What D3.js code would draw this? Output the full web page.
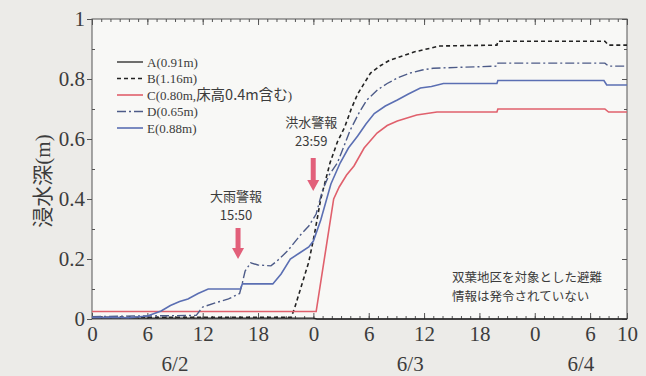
<!DOCTYPE html>
<html>
<head>
<meta charset="utf-8">
<script src="https://cdn.jsdelivr.net/npm/d3@7"></script>
<style>
  html, body { margin: 0; padding: 0; background: #ecebe8; }
  svg { display: block; }
</style>
</head>
<body>
<div id="chart"></div>
<script>
// water depth (m) by hour since 6/2 0:00
const seriesA = [[0, 0.003], [24, 0.003], [24.4, 0.0], [58, 0.0]];
const seriesB = [[0, 0.006], [21.6, 0.006], [22, 0.04], [23, 0.14], [23.5, 0.19], [24.1, 0.28], [24.8, 0.40],
  [25.8, 0.52], [26.6, 0.59], [27.4, 0.64], [28.1, 0.70], [28.8, 0.75], [30.2, 0.82], [31.3, 0.845],
  [32.3, 0.863], [34.9, 0.89], [36.3, 0.90], [37.7, 0.91], [43.9, 0.913], [44, 0.926], [55.6, 0.926],
  [56, 0.913], [58, 0.913]];
const seriesC = [[0, 0.025], [24.3, 0.025], [26.2, 0.40], [26.8, 0.44], [27.6, 0.48], [28.4, 0.51],
  [29.5, 0.57], [30.9, 0.62], [32, 0.645], [33.1, 0.66], [35.2, 0.68], [37.4, 0.69], [43.9, 0.69],
  [44, 0.70], [55.6, 0.70], [56, 0.69], [58, 0.69]];
const seriesD = [[0, 0.008], [5, 0.01], [11.3, 0.012], [12, 0.04], [13.5, 0.055], [14.8, 0.067], [16, 0.085],
  [16.3, 0.12], [16.6, 0.16], [17.2, 0.187], [18, 0.18], [19.4, 0.177], [20.3, 0.2], [21.2, 0.227],
  [22.6, 0.28], [23.5, 0.31], [24.3, 0.35], [25, 0.43], [25.7, 0.48], [26.6, 0.52], [28, 0.63],
  [29, 0.69], [29.8, 0.73], [31, 0.765], [32, 0.785], [33.2, 0.805], [34.5, 0.82], [35.8, 0.83],
  [37, 0.836], [43.9, 0.843], [44, 0.853], [55.6, 0.853], [56, 0.843], [58, 0.843]];
const seriesE = [[0, 0.005], [2, 0.006], [4, 0.004], [6, 0.01], [7.5, 0.027], [8.5, 0.045], [9.5, 0.058],
  [10.4, 0.067], [11.5, 0.085], [12.6, 0.10], [16.1, 0.10], [16.3, 0.117], [19.6, 0.117], [20.5, 0.15],
  [21.5, 0.2], [22.5, 0.22], [23.5, 0.24], [24, 0.26], [24.8, 0.33], [25.9, 0.45], [26.9, 0.52],
  [27.8, 0.57], [28.8, 0.61], [29.7, 0.65], [30.6, 0.685], [31.8, 0.71], [33.1, 0.73], [34.3, 0.75],
  [35.6, 0.77], [36.8, 0.775], [38.1, 0.785], [43.9, 0.785], [44, 0.795], [55.5, 0.795], [55.8, 0.78],
  [58, 0.78]];

const legendLabels = ["A(0.91m)", "B(1.16m)", "C(0.80m,床高0.4m含む)", "D(0.65m)", "E(0.88m)"];
const xTickHours = [0, 6, 12, 18, 24, 30, 36, 42, 48, 54, 58];
const xTickLabels = ["0", "6", "12", "18", "0", "6", "12", "18", "0", "6", "10"];
const yTicks = [0, 0.2, 0.4, 0.6, 0.8, 1];
const yTickLabels = ["0", "0.2", "0.4", "0.6", "0.8", "1"];
const dateLabels = ["6/2", "6/3", "6/4"];
const dateHours = [9, 34.5, 53];
const warnings = [{name: "大雨警報", time: "15:50", hour: 15 + 50 / 60},
                  {name: "洪水警報", time: "23:59", hour: 23 + 59 / 60}];
const noteLines = ["双葉地区を対象とした避難", "情報は発令されていない"];

const W = 646, H = 376;
const svg = d3.select("#chart").append("svg").attr("width", W).attr("height", H);

const x = d3.scaleLinear().domain([0, 58]).range([92, 627]);
const y = d3.scaleLinear().domain([0, 1]).range([319, 19]);

const serif = "'Liberation Serif', 'Noto Sans CJK JP', serif";
const sans = "'Noto Sans CJK JP', 'Noto Sans', sans-serif";
const ink = "#3c3c3c";

// plot background
svg.append("rect")
  .attr("x", x(0)).attr("y", y(1))
  .attr("width", x(58) - x(0)).attr("height", y(0) - y(1))
  .attr("fill", "#f8f8f6");

// axes
const hours = d3.range(0, 59);
const minorY = [0.1, 0.3, 0.5, 0.7, 0.9];
const axisStyle = g => {
  g.select(".domain").remove();
  g.selectAll("line").attr("stroke", "#555");
  g.selectAll("text").attr("font-family", serif).attr("font-size", 21).attr("fill", ink);
};

svg.append("g").attr("transform", `translate(0,${y(0)})`)
  .call(d3.axisBottom(x).tickValues(hours).tickSizeInner(-3).tickSizeOuter(0).tickFormat(""))
  .call(axisStyle);
svg.append("g").attr("transform", `translate(0,${y(0)})`)
  .call(d3.axisBottom(x).tickValues(xTickHours).tickSizeInner(-6).tickSizeOuter(0).tickPadding(7)
    .tickFormat((d, i) => xTickLabels[i]))
  .call(axisStyle);
svg.append("g").attr("transform", `translate(0,${y(1)})`)
  .call(d3.axisTop(x).tickValues(hours).tickSizeInner(-3).tickSizeOuter(0).tickFormat(""))
  .call(axisStyle);
svg.append("g").attr("transform", `translate(0,${y(1)})`)
  .call(d3.axisTop(x).tickValues(xTickHours).tickSizeInner(-6).tickSizeOuter(0).tickFormat(""))
  .call(axisStyle);

svg.append("g").attr("transform", `translate(${x(0)},0)`)
  .call(d3.axisLeft(y).tickValues(yTicks).tickSizeInner(5).tickSizeOuter(0).tickPadding(2)
    .tickFormat((d, i) => yTickLabels[i]))
  .call(axisStyle);
svg.append("g").attr("transform", `translate(${x(0)},0)`)
  .call(d3.axisLeft(y).tickValues(minorY).tickSizeInner(-3).tickSizeOuter(0).tickFormat(""))
  .call(axisStyle);
svg.append("g").attr("transform", `translate(${x(58)},0)`)
  .call(d3.axisRight(y).tickValues(yTicks).tickSizeInner(-5).tickSizeOuter(0).tickFormat(""))
  .call(axisStyle);
svg.append("g").attr("transform", `translate(${x(58)},0)`)
  .call(d3.axisRight(y).tickValues(minorY).tickSizeInner(-3).tickSizeOuter(0).tickFormat(""))
  .call(axisStyle);

// frame
svg.append("rect")
  .attr("x", x(0)).attr("y", y(1))
  .attr("width", x(58) - x(0)).attr("height", y(0) - y(1))
  .attr("fill", "none").attr("stroke", "#555").attr("stroke-width", 1);

// date labels
svg.append("g").selectAll("text").data(dateLabels).join("text")
  .attr("x", (d, i) => x(dateHours[i])).attr("y", 371)
  .attr("text-anchor", "middle")
  .attr("font-family", serif).attr("font-size", 21).attr("fill", ink)
  .text(d => d);

// y title
svg.append("text")
  .attr("transform", `translate(50,${(y(0) + y(1)) / 2 + 12}) rotate(-90)`)
  .attr("text-anchor", "middle")
  .attr("font-family", serif).attr("font-size", 21).attr("fill", ink)
  .text("浸水深(m)");

// series
const styles = [
  {data: seriesA, color: "#222", width: 1.3, dash: null},
  {data: seriesB, color: "#222", width: 1.6, dash: "4,3"},
  {data: seriesC, color: "#e0606c", width: 1.6, dash: null},
  {data: seriesD, color: "#4d5b88", width: 1.4, dash: "9,3,2,3"},
  {data: seriesE, color: "#5b6fb3", width: 1.6, dash: null}
];
const line = d3.line().x(d => x(d[0])).y(d => y(d[1]));
svg.append("g").selectAll("path").data(styles).join("path")
  .attr("d", d => line(d.data))
  .attr("fill", "none")
  .attr("stroke", d => d.color)
  .attr("stroke-width", d => d.width)
  .attr("stroke-dasharray", d => d.dash);

// legend
const legend = svg.append("g").selectAll("g").data(legendLabels).join("g")
  .attr("transform", (d, i) => `translate(117,${62 + i * 16.5})`);
legend.append("line")
  .attr("x1", 0).attr("x2", 26).attr("y1", 0).attr("y2", 0)
  .attr("stroke", (d, i) => styles[i].color)
  .attr("stroke-width", (d, i) => styles[i].width)
  .attr("stroke-dasharray", (d, i) => styles[i].dash);
legend.append("text")
  .attr("x", 30).attr("y", 4.5)
  .attr("font-family", serif).attr("font-size", 13).attr("fill", ink)
  .each(function(d) {
    const t = d3.select(this);
    const m = d.match(/^(.*?,)(.*)(\))$/);
    if (!m) { t.text(d); return; }
    t.append("tspan").text(m[1]);
    t.append("tspan").attr("font-family", sans).attr("font-size", 14.5).text(m[2]);
    t.append("tspan").text(m[3]);
  });

// warning arrows
const warn = svg.append("g").selectAll("g").data(warnings).join("g")
  .attr("transform", d => `translate(${x(d.hour)},0)`);
const warnTop = [228, 158], warnLen = [31, 33], warnTextY = [201, 127];
warn.append("text")
  .attr("x", -2).attr("y", (d, i) => warnTextY[i])
  .attr("text-anchor", "middle")
  .attr("font-family", sans).attr("font-size", 13).attr("fill", ink)
  .text(d => d.name);
warn.append("text")
  .attr("x", -2).attr("y", (d, i) => warnTextY[i] + 19)
  .attr("text-anchor", "middle")
  .attr("font-family", sans).attr("font-size", 13).attr("fill", ink)
  .text(d => d.time);
warn.append("path")
  .attr("d", (d, i) => {
    const t = warnTop[i], b = t + warnLen[i], hh = 11;
    return `M-2.5,${t}L2.5,${t}L2.5,${b - hh}L6,${b - hh}L0,${b}L-6,${b - hh}L-2.5,${b - hh}Z`;
  })
  .attr("fill", "#e2607a");

// note
svg.append("g").selectAll("text").data(noteLines).join("text")
  .attr("x", 452).attr("y", (d, i) => 282 + i * 18.5)
  .attr("font-family", sans).attr("font-size", 12.5).attr("fill", ink)
  .text(d => d);
</script>
</body>
</html>
